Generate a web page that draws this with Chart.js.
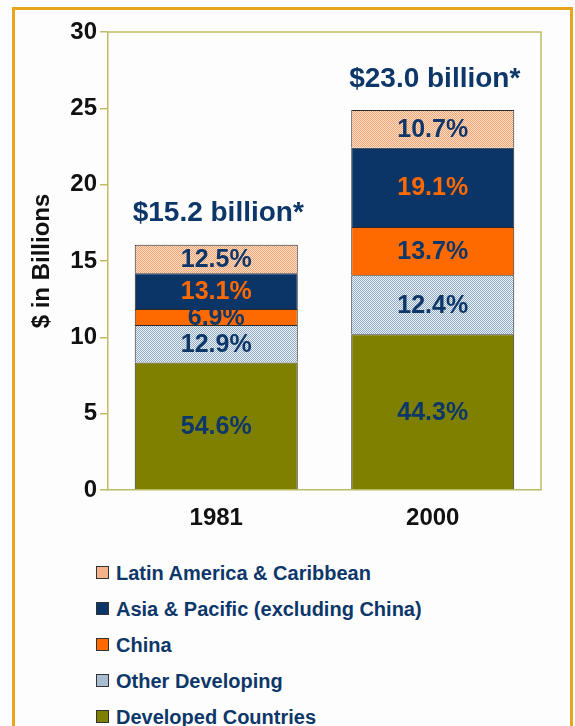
<!DOCTYPE html>
<html>
<head>
<meta charset="utf-8">
<script src="https://cdn.jsdelivr.net/npm/chart.js@4/dist/chart.umd.min.js"></script>
<style>
  html, body { margin: 0; padding: 0; background: #fdfdfd; }
  body { width: 575px; height: 726px; position: relative; overflow: hidden; font-family: "Liberation Sans", Arial, sans-serif; }
  #frame { position: absolute; left: 12px; top: 7px; width: 555px; height: 740px; border: 3px solid #e8a41c; }
  #c1 { position: absolute; left: 0; top: 0; }
  #legend { position: absolute; left: 96px; top: 560px; margin: 0; padding: 0; list-style: none; }
  #legend li { height: 36px; line-height: 26px; font-size: 20px; font-weight: bold; color: #0d3769; white-space: nowrap; }
  #legend .box { display: inline-block; width: 11px; height: 11px; border: 1px solid #333; margin-right: 7px; vertical-align: 1px; }
</style>
</head>
<body>
<div id="frame"></div>
<canvas id="c1" width="575" height="545"></canvas>
<ul id="legend"></ul>
<script>
const years = ['1981', '2000'];
const regions = ['Developed Countries', 'Other Developing', 'China', 'Asia & Pacific (excluding China)', 'Latin America & Caribbean'];

// $ billions (bottom to top)
const developed = [8.35, 10.2];
const otherDev = [2.45, 3.87];
const china = [1.05, 3.15];
const asiaPac = [2.34, 5.2];
const latinAm = [1.88, 2.47];

// shares printed inside the segments
const developedPct = ['54.6%', '44.3%'];
const otherDevPct = ['12.9%', '12.4%'];
const chinaPct = ['6.9%', '13.7%'];
const asiaPacPct = ['13.1%', '19.1%'];
const latinAmPct = ['12.5%', '10.7%'];

const totals = ['$15.2 billion*', '$23.0 billion*'];
const yTicks = [0, 5, 10, 15, 20, 25, 30];

const navy = '#0d3769';
const olive = '#7f7f00';
const axisCol = '#bcbc66';

// fine 2x2 checker like the print screen fills
function checker(bg, dot) {
  const c = document.createElement('canvas');
  c.width = 2; c.height = 2;
  const g = c.getContext('2d');
  g.fillStyle = bg; g.fillRect(0, 0, 2, 2);
  g.fillStyle = dot;
  g.fillRect(0, 0, 1, 1); g.fillRect(1, 1, 1, 1);
  return g.createPattern(c, 'repeat');
}

const ctx = document.getElementById('c1').getContext('2d');
const latinFill = checker('#fde3cf', '#f4a06c');
const otherFill = checker('#eef3f8', '#8fa9c4');

const seriesValues = [developed, otherDev, china, asiaPac, latinAm];
const seriesPct = [developedPct, otherDevPct, chinaPct, asiaPacPct, latinAmPct];
const seriesFill = [olive, otherFill, '#ff6a00', '#0b3467', latinFill];
const swatch = [olive, '#a9bdd2', '#ff6a00', '#0b3467', '#f6b38a'];
const labelCol = [navy, navy, navy, '#ff6a00', navy];

const segLabels = {
  id: 'segLabels',
  afterDatasetsDraw(chart) {
    const c = chart.ctx;
    c.save();
    c.textAlign = 'center';
    c.textBaseline = 'middle';
    c.font = 'bold 25px "Liberation Sans", Arial, sans-serif';
    chart.data.datasets.forEach((ds, i) => {
      chart.getDatasetMeta(i).data.forEach((bar, j) => {
        c.fillStyle = labelCol[i];
        c.fillText(seriesPct[i][j], bar.x, (bar.y + bar.base) / 2 + 1);
      });
    });
    // totals above each stack
    const top = chart.getDatasetMeta(chart.data.datasets.length - 1).data;
    c.font = 'bold 28px "Liberation Sans", Arial, sans-serif';
    c.fillStyle = navy;
    top.forEach((bar, j) => {
      c.fillText(totals[j], bar.x + 2, bar.y - 31);
    });
    // top and right edge of the plot box
    const a = chart.chartArea;
    c.strokeStyle = axisCol;
    c.lineWidth = 1.5;
    c.beginPath();
    c.moveTo(a.left, a.top);
    c.lineTo(a.right, a.top);
    c.lineTo(a.right, a.bottom);
    c.stroke();
    c.restore();
  }
};

new Chart(ctx, {
  type: 'bar',
  data: {
    labels: years,
    datasets: regions.map((r, i) => ({
      label: r,
      data: seriesValues[i],
      backgroundColor: seriesFill[i],
      borderColor: '#2a2a2a',
      borderWidth: 1,
      barPercentage: 0.753,
      categoryPercentage: 1
    }))
  },
  options: {
    responsive: false,
    animation: false,
    devicePixelRatio: 1,
    layout: { padding: { top: 32, right: 34, left: 0, bottom: 0 } },
    plugins: { legend: { display: false }, tooltip: { enabled: false } },
    scales: {
      x: {
        stacked: true,
        grid: { display: false, drawTicks: false },
        border: { color: axisCol, width: 1.5 },
        ticks: { color: '#111', padding: 14, font: { size: 24, weight: 'bold', family: '"Liberation Sans", Arial, sans-serif' } },
        afterFit(s) { s.height = 55; }
      },
      y: {
        stacked: true,
        min: 0,
        max: 30,
        afterBuildTicks(s) { s.ticks = yTicks.map(v => ({ value: v })); },
        grid: { drawOnChartArea: false, color: axisCol, lineWidth: 1.5, tickLength: 8 },
        border: { color: axisCol, width: 1.5 },
        ticks: { color: '#111', padding: 3, font: { size: 24, weight: 'bold', family: '"Liberation Sans", Arial, sans-serif' } },
        title: {
          display: true,
          text: '$ in Billions',
          color: '#111',
          padding: { top: 28, bottom: 0 },
          font: { size: 24, weight: 'bold', family: '"Liberation Sans", Arial, sans-serif' }
        },
        afterFit(s) { s.width = 108; }
      }
    }
  },
  plugins: [segLabels]
});

// legend, top of stack first
const ul = document.getElementById('legend');
for (let i = regions.length - 1; i >= 0; i--) {
  const li = document.createElement('li');
  const box = document.createElement('span');
  box.className = 'box';
  box.style.background = swatch[i];
  li.appendChild(box);
  li.appendChild(document.createTextNode(regions[i]));
  ul.appendChild(li);
}
</script>
</body>
</html>
